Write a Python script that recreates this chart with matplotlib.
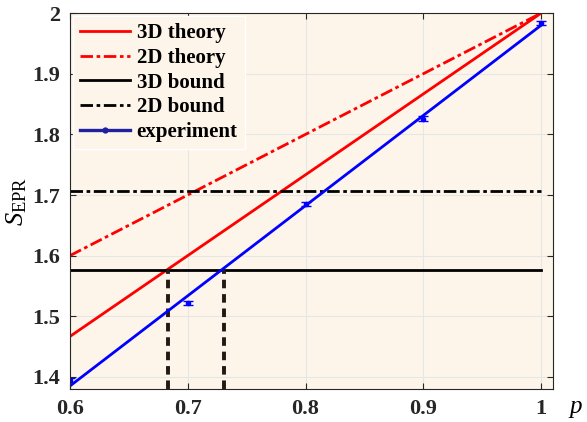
import matplotlib.pyplot as plt
import numpy as np

plt.rcParams['font.family'] = ['Liberation Serif', 'DejaVu Serif']
plt.rcParams['mathtext.fontset'] = 'custom'
plt.rcParams['mathtext.rm'] = 'Liberation Serif'
plt.rcParams['mathtext.it'] = 'Liberation Serif:italic'

# theory lines (endpoints)
p_theory = [0.6, 1.0]
s_3d = [1.4667, 2.0]
s_2d = [1.6, 2.0]
# bounds
bound_3d = 1.577
bound_2d = 1.707
# experiment points and fitted line
p_exp = [0.6, 0.7, 0.8, 0.9, 1.0]
s_exp = [1.395, 1.522, 1.685, 1.826, 1.984]
s_err = [0.003, 0.003, 0.003, 0.004, 0.003]
p_fit = [0.6, 1.0]
s_fit = [1.385, 1.98]
# crossing points with 3D bound
p_cross = [0.683, 0.731]

fig = plt.figure(figsize=(5.87, 4.22), dpi=100)
ax = fig.add_axes([0.119, 0.078, 0.823, 0.891])
ax.set_facecolor('#fdf5ea')

ax.plot(p_theory, s_3d, color='red', lw=2, label='3D theory')
ax.plot(p_theory, s_2d, color='red', lw=2, ls=(0, (4.5, 1.3, 1.3, 1.3)), label='2D theory')
ax.plot([0.6, 1.0], [bound_3d, bound_3d], color='black', lw=2, label='3D bound')
ax.plot([0.6, 1.0], [bound_2d, bound_2d], color='black', lw=2, ls=(0, (4.5, 1.3, 1.3, 1.3)), label='2D bound')
for pc in p_cross:
    ax.plot([pc, pc], [1.38, bound_3d], color='#231815', lw=2.8, ls=(0, (2.2, 1.5)))
ax.plot(p_fit, s_fit, color='blue', lw=2)
ax.errorbar(p_exp, s_exp, yerr=s_err, fmt='.', color='blue', ms=6, capsize=3.5, elinewidth=1.2)
ax.plot([], [], color='#1f1f9f', lw=2.4, marker='.', ms=7, label='experiment')

ax.set_xlim(0.6, 1.01)
ax.set_ylim(1.38, 2.0)
ax.set_xticks([0.6, 0.7, 0.8, 0.9, 1.0])
ax.set_xticklabels(['0.6', '0.7', '0.8', '0.9', '1'])
ax.set_yticks([1.4, 1.5, 1.6, 1.7, 1.8, 1.9, 2.0])
ax.set_yticklabels(['1.4', '1.5', '1.6', '1.7', '1.8', '1.9', '2'])
ax.tick_params(direction='in', top=True, right=True, labelsize=16, colors='#262626',
               length=4, width=0.8, pad=7)
for lab in ax.get_xticklabels() + ax.get_yticklabels():
    lab.set_fontweight('bold')
ax.grid(color='#e6e6e6', lw=0.8)
ax.set_axisbelow(True)
for sp in ax.spines.values():
    sp.set_color('#262626')
    sp.set_linewidth(0.8)

ax.set_ylabel(r'$S_{\mathrm{EPR}}$', fontsize=19, labelpad=2)
ax.text(1.023, 1.365, '$p$', fontsize=18, ha='left', va='top', transform=ax.transData, clip_on=False)

leg = ax.legend(loc='upper left', prop={'weight': 'bold', 'size': 15},
                handlelength=2.4, handletextpad=0.3, labelspacing=0.22,
                borderaxespad=0.15, borderpad=0.35, fancybox=False, framealpha=1)
leg.get_frame().set_facecolor('#fdf5ea')
leg.get_frame().set_edgecolor('white')

plt.savefig('out.png', dpi=100)
